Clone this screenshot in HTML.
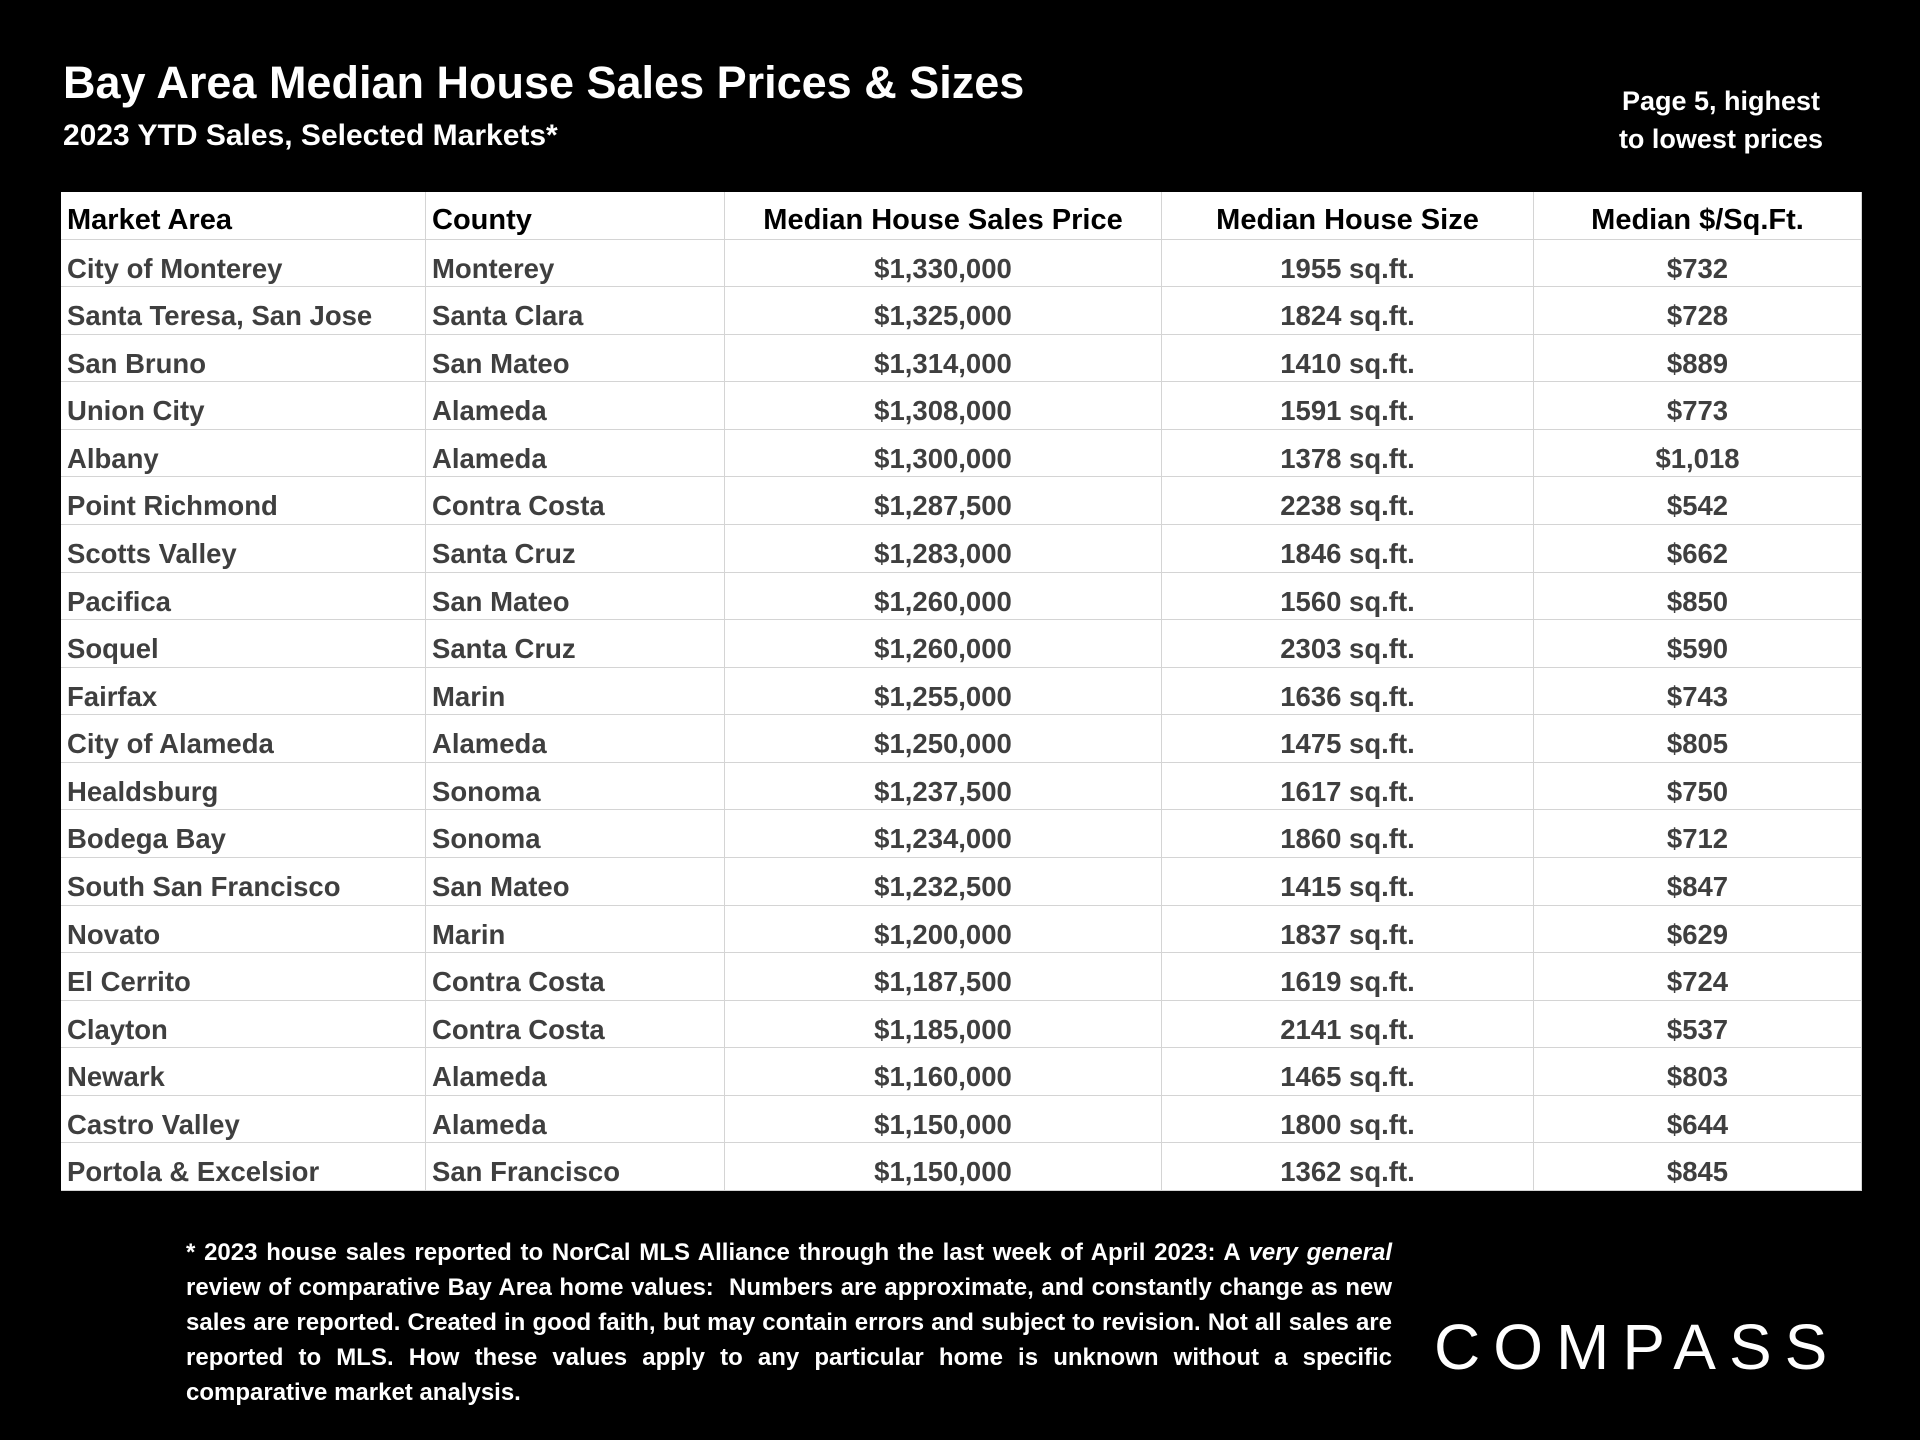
<!DOCTYPE html>
<html><head><meta charset="utf-8">
<style>
html,body{margin:0;padding:0;background:#000;}
body{width:1920px;height:1440px;position:relative;overflow:hidden;font-family:"Liberation Sans",sans-serif;}
.t{position:absolute;color:#fff;font-weight:bold;white-space:nowrap;}
#tbl{position:absolute;left:61px;top:192px;width:1801px;height:999px;background:#fff;}
.cell{position:absolute;height:47.6px;line-height:47.6px;padding-top:5px;font-size:27.5px;font-weight:bold;color:#3f3f3f;white-space:nowrap;box-sizing:border-box;border-right:1.5px solid #d4d4d4;border-bottom:1.5px solid #d4d4d4;overflow:hidden;}
.hdr{color:#000;font-size:29px;}
#foot{position:absolute;left:186px;top:1235px;width:1206px;color:#fff;font-weight:bold;font-size:24px;line-height:35px;text-align:justify;}
#logo{position:absolute;left:1434px;top:1310px;color:#fff;font-size:64px;letter-spacing:13px;font-weight:normal;}
</style></head><body>
<div class="t" style="left:63px;top:57px;font-size:45px;">Bay Area Median House Sales Prices &amp; Sizes</div>
<div class="t" style="left:63px;top:119px;font-size:30px;">2023 YTD Sales, Selected Markets*</div>
<div class="t" style="right:97px;top:82px;font-size:27px;text-align:center;line-height:38px;">Page 5, highest<br>to lowest prices</div>
<div id="tbl"></div>
<div id="foot">* 2023 house sales reported to NorCal MLS Alliance through the last week of April 2023: A <i>very general</i> review of comparative Bay Area home values:&nbsp; Numbers are approximate, and constantly change as new sales are reported. Created in good faith, but may contain errors and subject to revision. Not all sales are reported to MLS. How these values apply to any particular home is unknown without a specific comparative market analysis.</div>
<div id="logo">COMPASS</div>
<script>
const headers=["Market Area","County","Median House Sales Price","Median House Size","Median $/Sq.Ft."];
const areas=["City of Monterey","Santa Teresa, San Jose","San Bruno","Union City","Albany","Point Richmond","Scotts Valley","Pacifica","Soquel","Fairfax","City of Alameda","Healdsburg","Bodega Bay","South San Francisco","Novato","El Cerrito","Clayton","Newark","Castro Valley","Portola & Excelsior"];
const counties=["Monterey","Santa Clara","San Mateo","Alameda","Alameda","Contra Costa","Santa Cruz","San Mateo","Santa Cruz","Marin","Alameda","Sonoma","Sonoma","San Mateo","Marin","Contra Costa","Contra Costa","Alameda","Alameda","San Francisco"];
const prices=["$1,330,000","$1,325,000","$1,314,000","$1,308,000","$1,300,000","$1,287,500","$1,283,000","$1,260,000","$1,260,000","$1,255,000","$1,250,000","$1,237,500","$1,234,000","$1,232,500","$1,200,000","$1,187,500","$1,185,000","$1,160,000","$1,150,000","$1,150,000"];
const sizes=["1955","1824","1410","1591","1378","2238","1846","1560","2303","1636","1475","1617","1860","1415","1837","1619","2141","1465","1800","1362"];
const ppsf=["$732","$728","$889","$773","$1,018","$542","$662","$850","$590","$743","$805","$750","$712","$847","$629","$724","$537","$803","$644","$845"];
const colX=[0,365,664,1101,1473,1801];
const aligns=["left","left","center","center","center"];
const rowH=999/21;
const tbl=document.getElementById('tbl');
function addCell(r,c,txt,hdr){
  const d=document.createElement('div');
  
  
  d.className='cell'+(hdr?' hdr':'');
  d.style.left=colX[c]+'px';d.style.top=(r*rowH)+'px';
  d.style.width=(colX[c+1]-colX[c])+'px';
  d.style.textAlign=aligns[c];
  d.style.paddingLeft=(aligns[c]==='left'?6:0)+'px';
  d.textContent=txt;tbl.appendChild(d);
}
headers.forEach((h,c)=>addCell(0,c,h,true));
areas.forEach((a,i)=>{
  addCell(i+1,0,a);addCell(i+1,1,counties[i]);addCell(i+1,2,prices[i]);
  addCell(i+1,3,sizes[i]+' sq.ft.');addCell(i+1,4,ppsf[i]);
});
</script>
</body></html>
